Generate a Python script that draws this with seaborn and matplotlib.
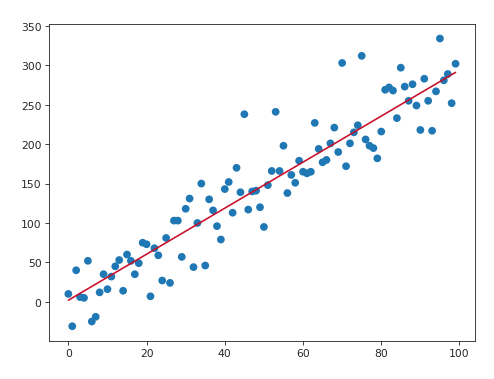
import numpy as np
import pandas as pd
import matplotlib
matplotlib.use("Agg")
import matplotlib.pyplot as plt
import seaborn as sns

# x positions 0..99, y
x_vals = list(range(100))
y_vals = [
    10, -31, 40, 6, 5, 52, -25, -19, 12, 35,
    16, 32, 45, 53, 14, 60, 52, 35, 49, 75,
    73, 7, 68, 59, 27, 81, 24, 103, 103, 57,
    118, 131, 44, 100, 150, 46, 130, 116, 96, 79,
    143, 152, 113, 170, 139, 238, 117, 140, 141, 120,
    95, 148, 166, 241, 166, 198, 138, 161, 151, 179,
    165, 163, 165, 227, 194, 177, 180, 201, 221, 190,
    303, 172, 201, 215, 224, 312, 206, 198, 195, 182,
    216, 269, 272, 268, 233, 297, 273, 255, 276, 249,
    218, 283, 255, 217, 267, 334, 281, 289, 252, 302,
]

# fitted line as drawn in the reference
fit_intercept = 2.0
fit_slope = 2.92

df = pd.DataFrame({"x": x_vals, "y": y_vals})
df["fit"] = fit_slope * df["x"] + fit_intercept

sns.set_style("ticks")
fig, ax = plt.subplots(figsize=(6.4, 4.915), dpi=77.3)
fig.subplots_adjust(left=0.099, right=0.96, top=0.934, bottom=0.101)

sns.scatterplot(data=df, x="x", y="y", color="#1f77b4", s=52,
                edgecolor="none", linewidth=0, ax=ax)
sns.lineplot(data=df, x="x", y="fit", color="#c8102a", linewidth=1.5, ax=ax)

ax.set_xlabel("")
ax.set_ylabel("")
ax.set_xticks([0, 20, 40, 60, 80, 100])
ax.set_yticks([0, 50, 100, 150, 200, 250, 300, 350])
ax.margins(0.05)

fig.savefig("out.png", dpi=77.3)
